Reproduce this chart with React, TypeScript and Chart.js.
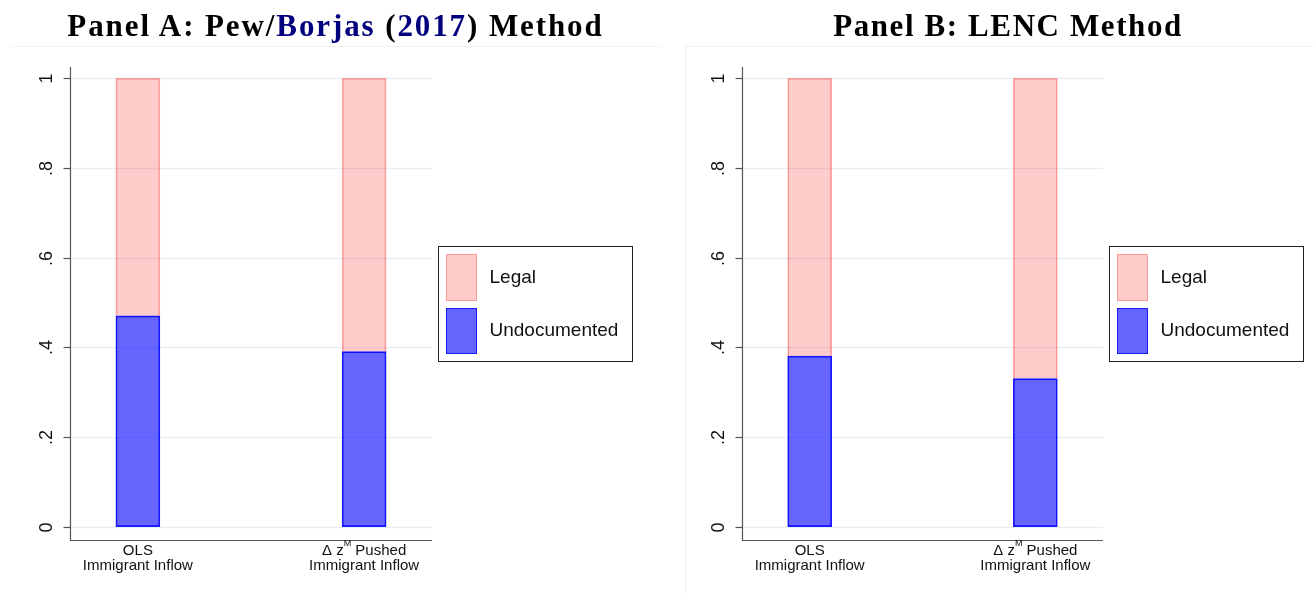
import React, { useEffect, useRef } from "react";
import { Chart, registerables } from "chart.js";

Chart.register(...registerables);

// ---------- data ----------
const categoryPositions = [1, 2];
const categoryLabelsTop = ["OLS", "Δ z^M Pushed"];
const categoryLabelsBottom = ["Immigrant Inflow", "Immigrant Inflow"];
const seriesNames = ["Legal", "Undocumented"];

const panelAUndocumented = [0.47, 0.39];
const panelALegal = [0.53, 0.61];
const panelBUndocumented = [0.38, 0.33];
const panelBLegal = [0.62, 0.67];

const yTickValues = [0, 0.2, 0.4, 0.6, 0.8, 1];
const yTickLabels = ["0", ".2", ".4", ".6", ".8", "1"];

const panelATitle = [
  { text: "Panel A: Pew/", color: "#000" },
  { text: "Borjas", color: "#00007f" },
  { text: " (", color: "#000" },
  { text: "2017", color: "#00007f" },
  { text: ") Method", color: "#000" },
];
const panelBTitle = [{ text: "Panel B: LENC Method", color: "#000" }];

// ---------- styles ----------
const LEGAL_FILL = "rgba(255,0,0,0.2)";
const LEGAL_BORDER = "rgba(255,60,60,0.45)";
const UNDOC_FILL = "rgba(0,0,255,0.6)";
const UNDOC_BORDER = "#1a1aff";
const SANS = "'Liberation Sans', Arial, sans-serif";

function drawMixedLine(ctx: CanvasRenderingContext2D, str: string, cx: number, cy: number, size: number) {
  const parts: { t: string; sup: boolean }[] = [];
  const re = /\^(\w)/g;
  let last = 0;
  let m: RegExpExecArray | null;
  while ((m = re.exec(str))) {
    if (m.index > last) parts.push({ t: str.slice(last, m.index), sup: false });
    parts.push({ t: m[1], sup: true });
    last = m.index + m[0].length;
  }
  if (last < str.length) parts.push({ t: str.slice(last), sup: false });
  const supSize = Math.round(size * 0.6);
  let total = 0;
  const widths = parts.map((p) => {
    ctx.font = `${p.sup ? supSize : size}px ${SANS}`;
    const w = ctx.measureText(p.t).width;
    total += w;
    return w;
  });
  let x = cx - total / 2;
  ctx.textAlign = "left";
  ctx.textBaseline = "middle";
  parts.forEach((p, i) => {
    ctx.font = `${p.sup ? supSize : size}px ${SANS}`;
    ctx.fillText(p.t, x, p.sup ? cy - size * 0.45 : cy);
    x += widths[i];
  });
}

const stataPlugin = {
  id: "stataDecor",
  beforeDatasetsDraw(chart: any) {
    const { ctx, chartArea } = chart;
    const y = chart.scales.y;
    ctx.save();
    ctx.strokeStyle = "#e9eff1";
    ctx.lineWidth = 1.5;
    yTickValues.forEach((v) => {
      const py = Math.round(y.getPixelForValue(v)) + 0.5;
      ctx.beginPath();
      ctx.moveTo(chartArea.left, py);
      ctx.lineTo(chartArea.right, py);
      ctx.stroke();
    });
    ctx.restore();
  },
  afterDatasetsDraw(chart: any) {
    const { ctx, chartArea } = chart;
    const y = chart.scales.y;
    const x = chart.scales.x;
    ctx.save();
    ctx.strokeStyle = "#555";
    ctx.lineWidth = 1.2;
    const left = Math.round(chartArea.left) + 0.5;
    const bottom = Math.round(chartArea.bottom) + 0.5;
    ctx.beginPath();
    ctx.moveTo(left, chartArea.top);
    ctx.lineTo(left, bottom);
    ctx.lineTo(chartArea.right, bottom);
    ctx.stroke();
    ctx.fillStyle = "#111";
    yTickValues.forEach((v, i) => {
      const py = Math.round(y.getPixelForValue(v)) + 0.5;
      ctx.beginPath();
      ctx.moveTo(left - 7, py);
      ctx.lineTo(left, py);
      ctx.stroke();
      ctx.save();
      ctx.translate(left - 23, py);
      ctx.rotate(-Math.PI / 2);
      ctx.font = `18px ${SANS}`;
      ctx.textAlign = "center";
      ctx.textBaseline = "middle";
      ctx.fillText(yTickLabels[i], 0, 0);
      ctx.restore();
    });
    categoryPositions.forEach((c, i) => {
      const px = x.getPixelForValue(c);
      ctx.fillStyle = "#111";
      drawMixedLine(ctx, categoryLabelsTop[i], px, chartArea.bottom + 10.5, 15);
      drawMixedLine(ctx, categoryLabelsBottom[i], px, chartArea.bottom + 25.5, 15);
    });
    const lx = Math.round(chartArea.right) + 6.5;
    const lh = 115;
    const ly = Math.round((chartArea.top + chartArea.bottom) / 2 - lh / 2) + 0.5;
    const lw = 194;
    ctx.fillStyle = "#fff";
    ctx.fillRect(lx, ly, lw, lh);
    ctx.strokeStyle = "#222";
    ctx.lineWidth = 1;
    ctx.strokeRect(lx, ly, lw, lh);
    const swatches = [
      { fill: LEGAL_FILL, border: LEGAL_BORDER, top: ly + 8, h: 46 },
      { fill: UNDOC_FILL, border: UNDOC_BORDER, top: ly + 62, h: 45 },
    ];
    swatches.forEach((s, i) => {
      ctx.fillStyle = s.fill;
      ctx.fillRect(lx + 8, s.top, 30, s.h);
      ctx.strokeStyle = s.border;
      ctx.lineWidth = 1;
      ctx.strokeRect(lx + 8, s.top, 30, s.h);
      ctx.fillStyle = "#111";
      ctx.font = `19px ${SANS}`;
      ctx.textAlign = "left";
      ctx.textBaseline = "middle";
      ctx.fillText(seriesNames[i], lx + 51, s.top + s.h / 2);
    });
    ctx.restore();
  },
};

function makeConfig(legal: number[], undoc: number[], padLeft: number, padRight: number): any {
  return {
    type: "bar",
    data: {
      datasets: [
        {
          label: seriesNames[1],
          data: categoryPositions.map((c, i) => ({ x: c, y: undoc[i] })),
          backgroundColor: UNDOC_FILL,
          borderColor: UNDOC_BORDER,
          borderWidth: 1,
          borderSkipped: false,
          barThickness: 44,
          stack: "s",
        },
        {
          label: seriesNames[0],
          data: categoryPositions.map((c, i) => ({ x: c, y: legal[i] })),
          backgroundColor: LEGAL_FILL,
          borderColor: LEGAL_BORDER,
          borderWidth: 1,
          borderSkipped: "start",
          barThickness: 44,
          stack: "s",
        },
      ],
    },
    options: {
      animation: false,
      responsive: false,
      maintainAspectRatio: false,
      layout: { padding: { left: padLeft, right: padRight, top: 67, bottom: 55 } },
      plugins: { legend: { display: false }, tooltip: { enabled: false }, title: { display: false } },
      scales: {
        x: { type: "linear", min: 0.7, max: 2.3, offset: false, stacked: true, display: false },
        y: { type: "linear", min: -0.03, max: 1.025, stacked: true, display: false },
      },
    },
    plugins: [stataPlugin],
  };
}

function Panel(props: { legal: number[]; undoc: number[]; padLeft: number; padRight: number; left: number }) {
  const ref = useRef<HTMLCanvasElement>(null);
  useEffect(() => {
    if (!ref.current) return;
    const chart = new Chart(ref.current, makeConfig(props.legal, props.undoc, props.padLeft, props.padRight));
    return () => chart.destroy();
  }, []);
  return (
    <canvas
      ref={ref}
      width={657}
      height={595}
      style={{ position: "absolute", left: props.left, top: 0, width: 657, height: 595 }}
    />
  );
}

function Title(props: { parts: { text: string; color: string }[]; center: number; spacing: number }) {
  return (
    <div
      style={{
        position: "absolute",
        left: props.center - 350,
        width: 700,
        top: 10,
        textAlign: "center",
        fontFamily: "'Liberation Serif', 'Times New Roman', serif",
        fontWeight: "bold",
        fontSize: 31,
        lineHeight: 1,
        letterSpacing: props.spacing,
        whiteSpace: "nowrap",
      }}
    >
      {props.parts.map((p, i) => (
        <span key={i} style={{ color: p.color }}>
          {p.text}
        </span>
      ))}
    </div>
  );
}

export default function App() {
  return (
    <div style={{ position: "absolute", left: 0, top: 0, width: 1314, height: 595, background: "#fff", overflow: "hidden" }}>
      <div style={{ position: "absolute", left: 11, top: 46, width: 650, height: 560, borderTop: "1px solid #eef2f4" }} />
      <div
        style={{
          position: "absolute",
          left: 685,
          top: 46,
          width: 640,
          height: 560,
          borderTop: "1px solid #eef2f4",
          borderLeft: "1px solid #eef2f4",
        }}
      />
      <Panel legal={panelALegal} undoc={panelAUndocumented} padLeft={70} padRight={225} left={0} />
      <Panel legal={panelBLegal} undoc={panelBUndocumented} padLeft={85} padRight={211} left={657} />
      <Title parts={panelATitle} center={335.5} spacing={1.9} />
      <Title parts={panelBTitle} center={1008} spacing={1.6} />
    </div>
  );
}
